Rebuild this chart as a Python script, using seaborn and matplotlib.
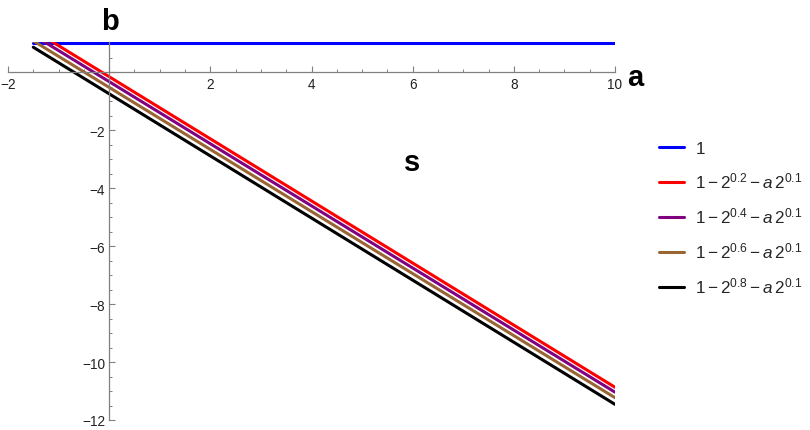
import matplotlib
matplotlib.use("Agg")
import matplotlib.pyplot as plt
import seaborn as sns
import pandas as pd
import numpy as np
from matplotlib.ticker import MultipleLocator, FixedLocator

sns.set_theme(style="white")
plt.rcParams['font.family'] = ['Liberation Sans', 'DejaVu Sans']
plt.rcParams['mathtext.fontset'] = 'custom'
plt.rcParams['mathtext.rm'] = 'Liberation Sans'
plt.rcParams['mathtext.it'] = 'Liberation Sans:italic'
plt.rcParams['axes.unicode_minus'] = True

# data: line endpoints
a_vals = [-1.5, 10.0]
series_labels = [r'$1$',
                 r'$1-2^{0.2}-a\,2^{0.1}$',
                 r'$1-2^{0.4}-a\,2^{0.1}$',
                 r'$1-2^{0.6}-a\,2^{0.1}$',
                 r'$1-2^{0.8}-a\,2^{0.1}$']
b_one = [1.0, 1.0]
b_02 = [1.46, -10.87]
b_04 = [1.29, -11.04]
b_06 = [1.09, -11.23]
b_08 = [0.87, -11.46]
colors = ['#0000ff', '#ff0000', '#800080', '#996633', '#000000']
xticks = [-2, 2, 4, 6, 8, 10]
yticks = [-2, -4, -6, -8, -10, -12]

rows = []
for lab, ys in zip(series_labels, [b_one, b_02, b_04, b_06, b_08]):
    for x, y in zip(a_vals, ys):
        rows.append({'a': x, 'b': y, 's': lab})
df = pd.DataFrame(rows)

fig = plt.figure(figsize=(8.10, 4.31), dpi=100)
ax = fig.add_axes([8/810, 1 - 421/431, (615-8)/810, (421-43)/431])
sns.lineplot(data=df, x='a', y='b', hue='s', palette=colors, linewidth=2.2,
             ax=ax, legend=True, sort=False)

ax.set_xlim(-2, 10)
ax.set_ylim(-12, 1.05)
ax.set_xlabel('')
ax.set_ylabel('')

for s in ['top', 'right']:
    ax.spines[s].set_visible(False)
ax.spines['left'].set_position(('data', 0))
ax.spines['bottom'].set_position(('data', 0))
for s in ['left', 'bottom']:
    ax.spines[s].set_color('#808080')
    ax.spines[s].set_linewidth(0.9)

ax.set_xticks(xticks + [0])
ax.set_xticklabels([str(t).replace('-', '\u2212') for t in xticks] + [''])
ax.set_yticks(yticks + [0])
ax.set_yticklabels([str(t).replace('-', '\u2212') for t in yticks] + [''])
ax.xaxis.set_minor_locator(MultipleLocator(0.5))
ax.yaxis.set_minor_locator(MultipleLocator(0.5))
ax.tick_params(which='both', direction='in', color='#808080', labelsize=9.8,
               labelcolor='#222222', bottom=True, left=True)
ax.tick_params(which='major', length=4, width=0.8, pad=3)
ax.tick_params(which='minor', length=2.2, width=0.7)

bold = dict(fontsize=21, fontweight='bold', color='black')
fig.text(110/810, 1 - 22/431, 'b', ha='center', va='center', **bold)
fig.text(635/810, 1 - 78/431, 'a', ha='center', va='center', **bold)
fig.text(412/810, 1 - 163/431, 's', ha='center', va='center', **bold)

handles, labels = ax.get_legend_handles_labels()
ax.legend_.remove()
leg = fig.legend(handles, labels, loc='upper left', bbox_to_anchor=(652/810, 1 - 134/431),
                 frameon=False, fontsize=12.3, handlelength=1.45, handletextpad=0.65,
                 labelspacing=0.88, borderaxespad=0)
for h in leg.get_lines():
    h.set_linewidth(2.2)

fig.savefig('out.png', dpi=100)
